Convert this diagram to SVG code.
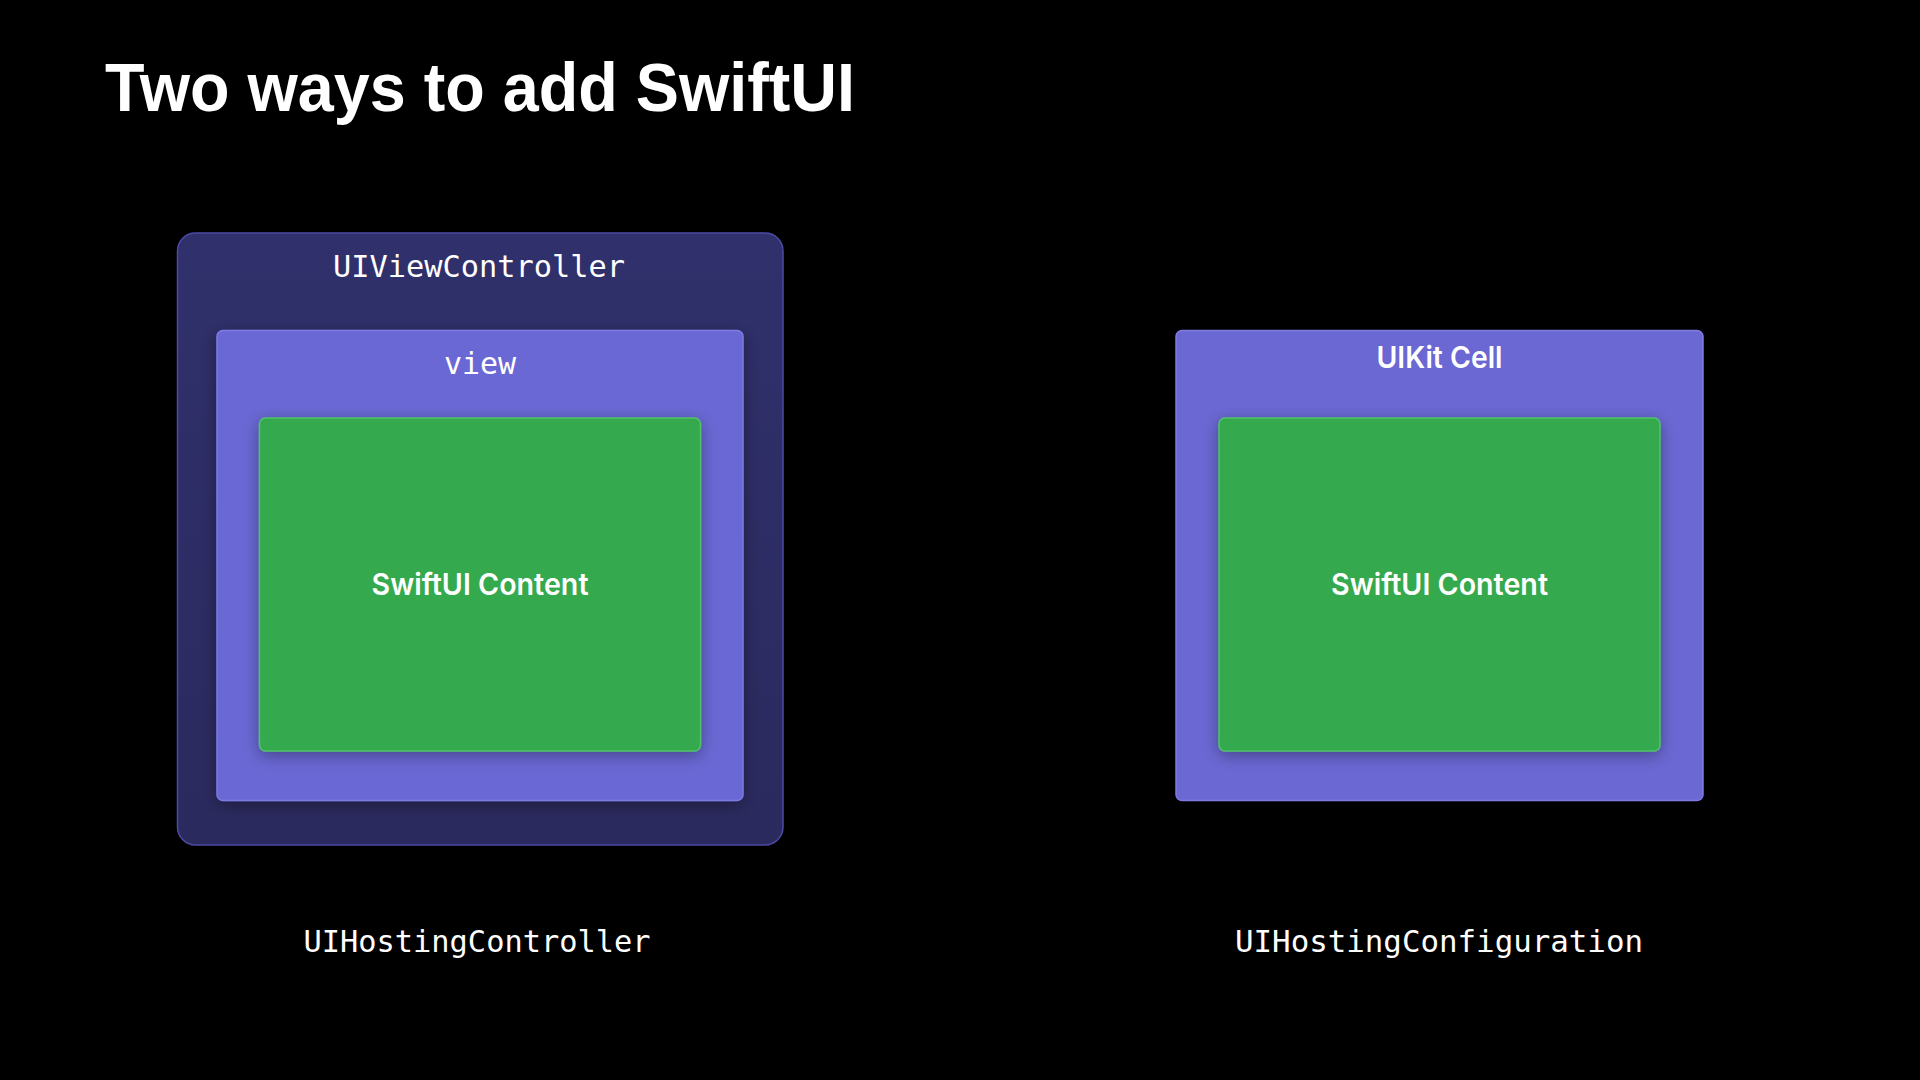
<svg xmlns="http://www.w3.org/2000/svg" width="1920" height="1080" viewBox="0 0 1920 1080">
  <defs>
    <filter id="shadow" x="-10%" y="-10%" width="120%" height="125%">
      <feDropShadow dx="0" dy="4" stdDeviation="8" flood-color="#000000" flood-opacity="0.35"/>
    </filter>
    <linearGradient id="outerGrad" x1="0" y1="0" x2="0" y2="1">
      <stop offset="0" stop-color="#30306c"/>
      <stop offset="1" stop-color="#2b2a5e"/>
    </linearGradient>
  </defs>
  <style>
    .title { font-family: "Liberation Sans", Arial, sans-serif; font-weight: 700; font-size: 68px; fill: #ffffff; }
    .mono { font-family: "DejaVu Sans Mono", "Liberation Mono", monospace; font-size: 30px; fill: #ffffff; text-anchor: middle; }
    .sans { font-family: "Inter", "Liberation Sans", Arial, sans-serif; font-weight: 600; font-size: 30px; fill: #ffffff; text-anchor: middle; }
    .outer { fill: url(#outerGrad); stroke: #4c4aa6; stroke-width: 1.5; }
    .purple { fill: #6b68d4; stroke: #7e7be2; stroke-width: 1.5; }
    .green { fill: #34a94d; stroke: #4fc267; stroke-width: 1.5; }
  </style>
  <rect x="0" y="0" width="1920" height="1080" fill="#000000"/>

  <text class="title" x="105" y="111" textLength="750" lengthAdjust="spacingAndGlyphs">Two ways to add SwiftUI</text>

  <g id="uiviewcontroller">
    <rect class="outer" x="177.5" y="233" width="605.5" height="612" rx="18" ry="18"/>
    <text class="mono" x="479" y="277" textLength="292" lengthAdjust="spacingAndGlyphs">UIViewController</text>
  </g>
  <g id="view">
    <rect class="purple" x="217" y="330.5" width="526" height="470" rx="6" ry="6" filter="url(#shadow)"/>
    <text class="mono" x="480" y="374">view</text>
  </g>
  <g id="swiftui-content-left">
    <rect class="green" x="259.5" y="418" width="441" height="333" rx="6" ry="6" filter="url(#shadow)"/>
    <text class="sans" x="480" y="595" textLength="217" lengthAdjust="spacingAndGlyphs">SwiftUI Content</text>
  </g>
  <g id="uikit-cell">
    <rect class="purple" x="1176" y="330.5" width="527" height="470" rx="6" ry="6"/>
    <text class="sans" x="1439.5" y="368" textLength="126" lengthAdjust="spacingAndGlyphs">UIKit Cell</text>
  </g>
  <g id="swiftui-content-right">
    <rect class="green" x="1219" y="418" width="441" height="333" rx="6" ry="6" filter="url(#shadow)"/>
    <text class="sans" x="1439.5" y="595" textLength="217" lengthAdjust="spacingAndGlyphs">SwiftUI Content</text>
  </g>
  <g id="uihostingcontroller">
    <text class="mono" x="477" y="952" textLength="347" lengthAdjust="spacingAndGlyphs">UIHostingController</text>
  </g>
  <g id="uihostingconfiguration">
    <text class="mono" x="1439" y="952" textLength="408" lengthAdjust="spacingAndGlyphs">UIHostingConfiguration</text>
  </g>
  <g id="connectors"></g>
</svg>
